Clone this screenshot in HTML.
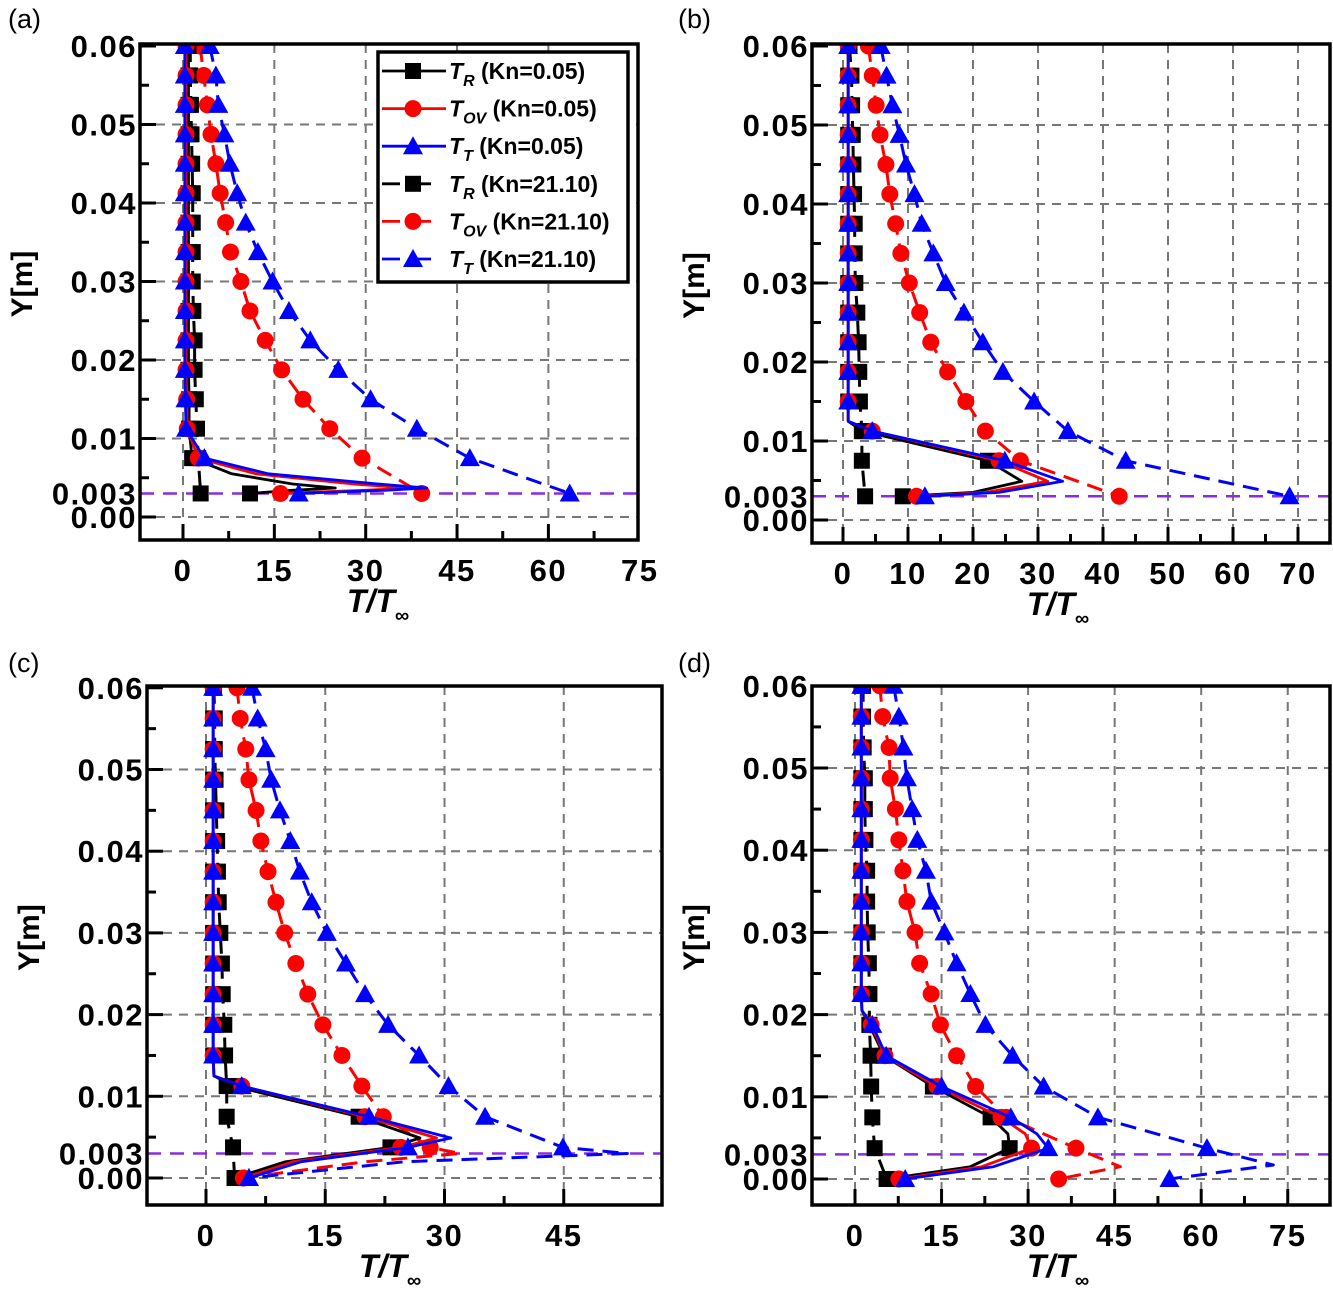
<!DOCTYPE html>
<html><head><meta charset="utf-8"><style>
html,body{margin:0;padding:0;background:#fff;}
svg{display:block;font-family:"Liberation Sans",Arial,sans-serif;}
.tl{font-weight:bold;font-size:31px;letter-spacing:1.5px;fill:#000;}
.pl{font-size:27px;fill:#000;}
.ax{font-weight:bold;font-style:italic;font-size:32px;fill:#000;}
.yt{font-weight:bold;font-size:30px;fill:#000;}
.lg{font-weight:bold;font-size:23px;fill:#000;}
</style></head><body>
<svg id="fig" width="1333" height="1293" viewBox="0 0 1333 1293" xmlns="http://www.w3.org/2000/svg"></svg>
<script>
// ---- marker grids ----
const gridAB = [0.06,0.05625,0.0525,0.04875,0.045,0.04125,0.0375,0.03375,0.03,0.02625,0.0225,0.01875,0.015,0.01125,0.0075,0.003];
const gridCD = [0.06,0.05625,0.0525,0.04875,0.045,0.04125,0.0375,0.03375,0.03,0.02625,0.0225,0.01875,0.015,0.01125,0.0075,0.00375,0];
const yTickVals = [0.06,0.05,0.04,0.03,0.02,0.01,0.00];
const yTickLabels = ["0.06","0.05","0.04","0.03","0.02","0.01","0.00"];
// ---- panel (a) ----
const aXTicks = [0,15,30,45,60,75];
const aY05 = [0.06,0.05625,0.0525,0.04875,0.045,0.04125,0.0375,0.03375,0.03,0.02625,0.0225,0.01875,0.015,0.01125,0.0075,0.0055,0.0042,0.0037,0.0034,0.003];
const aTR05 = [0.9,0.9,0.9,0.9,0.9,0.9,0.9,0.9,0.9,0.9,0.9,0.9,1.0,1.0,1.5,8,18,25,18,11];
const aTOV05 = [0.5,0.5,0.5,0.5,0.5,0.5,0.5,0.5,0.5,0.5,0.5,0.5,0.6,0.7,2.5,12,28,37,30,16];
const aTT05 = [0.3,0.3,0.3,0.3,0.3,0.3,0.3,0.3,0.3,0.3,0.3,0.3,0.4,0.5,3.5,14,32,40,33,19];
const aY21 = gridAB;
const aTR21 = [1.2,1.2,1.3,1.4,1.5,1.6,1.6,1.6,1.6,1.7,1.9,1.9,2.1,2.3,2.5,2.9];
const aTOV21 = [2.8,3.4,4.0,4.6,5.4,6.1,7.0,7.8,9.5,11.0,13.5,16.2,19.7,24.1,29.4,39.2];
const aTT21 = [4.4,5.4,5.8,6.8,7.7,8.9,10.3,12.3,14.7,17.4,20.9,25.5,30.8,38.4,47.1,63.5];
// ---- panel (b) ----
const bXTicks = [0,10,20,30,40,50,60,70];
const bY05 = [0.06,0.05625,0.0525,0.04875,0.045,0.04125,0.0375,0.03375,0.03,0.02625,0.0225,0.01875,0.015,0.0125,0.01125,0.0075,0.0049,0.0035,0.003];
const bTR05 = [0.8,0.8,0.8,0.8,0.8,0.8,0.8,0.8,0.8,0.8,0.8,0.8,0.8,0.8,3,22.3,27.5,20,9.2];
const bTOV05 = [0.8,0.8,0.8,0.8,0.8,0.8,0.8,0.8,0.8,0.8,0.8,0.8,0.8,0.8,4.5,24,31.5,22,11.3];
const bTT05 = [0.8,0.8,0.8,0.8,0.8,0.8,0.8,0.8,0.8,0.8,0.8,0.8,0.8,0.8,4.5,24.9,33.8,24,12.6];
const bY21 = gridAB;
const bTR21 = [1.0,1.3,1.4,1.5,1.6,1.7,1.8,1.8,1.9,2.2,2.4,2.5,2.6,2.9,2.9,3.4];
const bTOV21 = [3.9,4.5,5.1,5.7,6.6,7.2,8.1,8.9,10.2,11.8,13.5,16.1,18.9,21.9,27.3,42.5];
const bTT21 = [5.8,6.7,7.6,8.7,9.7,11.0,12.1,13.9,15.8,18.6,21.5,24.6,29.4,34.6,43.5,68.7];
// ---- panel (c) ----
const cXTicks = [0,15,30,45];
const cY05 = [0.06,0.05625,0.0525,0.04875,0.045,0.04125,0.0375,0.03375,0.03,0.02625,0.0225,0.01875,0.015,0.0125,0.01125,0.0075,0.0049,0.00375,0.002,0];
const cTR05 = [0.9,0.9,0.9,0.9,0.9,0.9,0.9,0.9,0.9,0.9,0.9,0.9,0.9,1.0,3.5,19.2,26.9,23.2,10,3.6];
const cTOV05 = [0.9,0.9,0.9,0.9,0.9,0.9,0.9,0.9,0.9,0.9,0.9,0.9,0.9,1.0,4.5,20.0,29.0,24.5,11,4.7];
const cTT05 = [0.9,0.9,0.9,0.9,0.9,0.9,0.9,0.9,0.9,0.9,0.9,0.9,0.9,1.0,4.5,20.5,30.8,25.4,12,5.4];
const cYTR21 = gridCD;
const cTR21 = [1.0,1.1,1.1,1.2,1.3,1.4,1.5,1.6,1.8,2.0,2.1,2.3,2.4,2.6,2.6,3.4,3.6];
const cYHot21 = [0.06,0.05625,0.0525,0.04875,0.045,0.04125,0.0375,0.03375,0.03,0.02625,0.0225,0.01875,0.015,0.01125,0.0075,0.00375,0.003,0.002,0];
const cTOV21 = [3.9,4.3,5.0,5.4,6.3,6.9,7.8,8.8,9.9,11.3,12.8,14.7,17.1,19.6,22.3,28.2,32,20,4.7];
const cTT21 = [5.8,6.5,7.5,8.2,9.3,10.6,11.8,13.3,15.2,17.6,20.0,22.9,26.8,30.5,35.1,44.9,53,25,5.4];
// ---- panel (d) ----
const dXTicks = [0,15,30,45,60,75];
const dY05 = [0.06,0.05625,0.0525,0.04875,0.045,0.04125,0.0375,0.03375,0.03,0.02625,0.0225,0.0205,0.01875,0.015,0.01125,0.0075,0.0055,0.00375,0.0015,0];
const dTR05 = [1.1,1.1,1.1,1.1,1.1,1.1,1.1,1.1,1.1,1.1,1.1,1.2,2.5,5.0,13.5,23.5,26.5,26.8,20,5.5];
const dTOV05 = [1.1,1.1,1.1,1.1,1.1,1.1,1.1,1.1,1.1,1.1,1.1,1.2,2.8,5.2,14.2,25.3,29.5,30.6,22,7.6];
const dTT05 = [1.1,1.1,1.1,1.1,1.1,1.1,1.1,1.1,1.1,1.1,1.1,1.2,3.0,5.4,15.0,27.0,31.5,33.5,24,8.7];
const dYTR21 = gridCD;
const dTR21 = [1.4,1.4,1.5,1.7,1.7,1.8,2.1,2.1,2.2,2.4,2.5,2.5,2.7,2.8,3.0,3.4,5.5];
const dYOV21 = [0.06,0.05625,0.0525,0.04875,0.045,0.04125,0.0375,0.03375,0.03,0.02625,0.0225,0.01875,0.015,0.01125,0.0075,0.00375,0.0015,0];
const dTOV21 = [4.3,4.8,5.9,6.1,7.0,7.6,8.3,9.0,10.4,11.2,13.2,14.8,17.6,20.9,26.2,38.3,46,35.3];
const dYTT21 = [0.06,0.05625,0.0525,0.04875,0.045,0.04125,0.0375,0.03375,0.03,0.02625,0.0225,0.01875,0.015,0.01125,0.0075,0.00375,0.0017,0];
const dTT21 = [6.7,7.6,8.4,9.0,9.9,10.8,12.3,13.2,15.5,17.6,20.0,22.6,27.3,32.7,42.1,61.0,72.5,54.5];

const NS = "http://www.w3.org/2000/svg";
const svg = document.getElementById("fig");
function mk(tag, attrs, parent){
  const e = document.createElementNS(NS, tag);
  for (const k in attrs) e.setAttribute(k, attrs[k]);
  (parent||svg).appendChild(e);
  return e;
}
const COL = {TR:"#000000", TOV:"#ff0000", TT:"#0000ff"};

function marker(g, kind, cx, cy, color){
  let m;
  if (kind === "TR") m = mk("rect", {x:cx-8, y:cy-8, width:16, height:16, fill:color}, g);
  else if (kind === "TOV") m = mk("circle", {cx:cx, cy:cy, r:8.5, fill:color}, g);
  else m = mk("polygon", {points:`${cx},${cy-10} ${cx+10},${cy+8} ${cx-10},${cy+8}`, fill:color}, g);
  return m;
}
function inGrid(y, grid){ return grid.some(v => Math.abs(v-y) < 1e-7); }

function panel(id, L, R, T, B, x0, xppu, yZero, yppu, xTicks, minorStep, letter, letterPos, xTitleX, xTitleY, series, grid){
  const X = v => x0 + v*xppu;
  const Y = v => yZero - v*yppu;
  const g = mk("g", {});
  
  
  const cp = mk("clipPath", {id:"clip"+id}, g);
  mk("rect", {x:L, y:T, width:R-L, height:B-T}, cp);
  const gg = mk("g", {stroke:"#777", "stroke-width":2, "stroke-dasharray":"9,7"}, g);
  
  
  xTicks.forEach(t => { const x = X(t); if (x > L+2 && x < R-2) mk("line", {x1:x, x2:x, y1:T, y2:B}, gg); });
  yTickVals.forEach(t => { const y = Y(t); if (y > T+4 && y < B-2) mk("line", {x1:L, x2:R, y1:y, y2:y}, gg); });
  const tg = mk("g", {stroke:"#000", "stroke-width":3}, g);
  
  
  for (let v = xTicks[0]; v <= xTicks[xTicks.length-1] + 1e-9; v += minorStep) {
    const x = X(v); if (x <= L || x >= R) continue;
    const major = xTicks.some(t => Math.abs(t-v) < 1e-9);
    mk("line", {x1:x, x2:x, y1:B, y2:B-(major?16:9)}, tg);
  }
  for (let k = 0; k <= 12; k++) {
    const v = k*0.005; const y = Y(v); if (y <= T+1 || y >= B) continue;
    const major = (k % 2 === 0);
    mk("line", {x1:L, x2:L+(major?16:9), y1:y, y2:y}, tg);
  }
  const pl = mk("line", {x1:L, x2:R, y1:Y(0.003), y2:Y(0.003), stroke:"#8a2be2", "stroke-width":2.5, "stroke-dasharray":"14,9"}, g);
  
  
  const sg = mk("g", {"clip-path":`url(#clip${id})`}, g);
  series.forEach(s => {
    const sGroup = mk("g", {}, sg);
    
    
    const pts = s.y.map((yv,i) => X(s.x[i]).toFixed(1)+","+Y(yv).toFixed(1)).join(" ");
    const attrs = {points:pts, fill:"none", stroke:COL[s.kind], "stroke-width":s.dashed?3:2.8, "stroke-linejoin":"round"};
    if (s.dashed) attrs["stroke-dasharray"] = "16,9";
    const line = mk("polyline", attrs, sGroup);
    
    
    s.y.forEach((yv,i) => {
      if (!inGrid(yv, grid)) return;
      const m = marker(sGroup, s.kind, X(s.x[i]), Y(yv), COL[s.kind]);
      
      
    });
  });
  const fr = mk("rect", {x:L, y:T, width:R-L, height:B-T, fill:"none", stroke:"#000", "stroke-width":3.5}, g);
  
  
  xTicks.forEach(t => {
    const tx = mk("text", {x:X(t), y:B+41, "text-anchor":"middle", class:"tl"}, g);
    tx.textContent = String(t);
    
    
  });
  yTickVals.forEach((t,i) => {
    const ty = mk("text", {x:L-3, y:Y(t)+11, "text-anchor":"end", class:"tl"}, g);
    ty.textContent = yTickLabels[i];
    
    
  });
  const t3 = mk("text", {x:L-3, y:Y(0.003)+11, "text-anchor":"end", class:"tl"}, g);
  t3.textContent = "0.003";
  
  
  const xt = mk("text", {x:xTitleX, y:xTitleY, "text-anchor":"middle", class:"ax"}, g);
  
  
  xt.innerHTML = 'T/T<tspan font-size="20" dy="10">∞</tspan>';
  const yx = L-108, yy = (T+B)/2 - 8;
  const yt = mk("text", {x:yx, y:yy, "text-anchor":"middle", class:"yt", transform:`rotate(-90 ${yx} ${yy})`}, g);
  yt.textContent = "Y[m]";
  
  
  const pl2 = mk("text", {x:letterPos[0], y:letterPos[1], class:"pl"}, g);
  pl2.textContent = letter;
  
  
}

function S(kind, kn, y, x, dashed){ return {kind, kn, y, x, dashed}; }

panel("a", 140, 638, 44, 540, 183, 6.09, 517, 7850, aXTicks, 7.5, "(a)", [8,28], 378, 612, [
  S("TR","21.10",aY21,aTR21,true), S("TOV","21.10",aY21,aTOV21,true), S("TT","21.10",aY21,aTT21,true),
  S("TR","0.05",aY05,aTR05,false), S("TOV","0.05",aY05,aTOV05,false), S("TT","0.05",aY05,aTT05,false)
], gridAB);
panel("b", 812, 1330, 44, 543, 843, 6.5, 520, 7900, bXTicks, 5, "(b)", [678,28], 1058, 615, [
  S("TR","21.10",bY21,bTR21,true), S("TOV","21.10",bY21,bTOV21,true), S("TT","21.10",bY21,bTT21,true),
  S("TR","0.05",bY05,bTR05,false), S("TOV","0.05",bY05,bTOV05,false), S("TT","0.05",bY05,bTT05,false)
], gridAB);
panel("c", 147, 662, 686, 1205, 206, 7.95, 1178, 8170, cXTicks, 7.5, "(c)", [8,672], 390, 1277, [
  S("TR","21.10",cYTR21,cTR21,true), S("TOV","21.10",cYHot21,cTOV21,true), S("TT","21.10",cYHot21,cTT21,true),
  S("TR","0.05",cY05,cTR05,false), S("TOV","0.05",cY05,cTOV05,false), S("TT","0.05",cY05,cTT05,false)
], gridCD);
panel("d", 812, 1330, 686, 1205, 855, 5.77, 1179, 8220, dXTicks, 7.5, "(d)", [678,672], 1058, 1277, [
  S("TR","21.10",dYTR21,dTR21,true), S("TOV","21.10",dYOV21,dTOV21,true), S("TT","21.10",dYTT21,dTT21,true),
  S("TR","0.05",dY05,dTR05,false), S("TOV","0.05",dY05,dTOV05,false), S("TT","0.05",dY05,dTT05,false)
], gridCD);

const legKinds = ["TR","TOV","TT","TR","TOV","TT"];
const legSubs = ["R","OV","T","R","OV","T"];
const legKn = ["0.05","0.05","0.05","21.10","21.10","21.10"];
const lg = mk("g", {});


const lbox = mk("rect", {x:378, y:52, width:250, height:230, fill:"#fff", stroke:"#000", "stroke-width":3.5}, lg);


legKinds.forEach((k,i) => {
  const cy = 71 + i*37.6;
  const eg = mk("g", {}, lg);
  
  
  const dashed = i >= 3;
  const la = {x1:382, x2:dashed?444:446, y1:cy, y2:cy, stroke:COL[k], "stroke-width":2.8};
  if (dashed) la["stroke-dasharray"] = "18,13";
  mk("line", la, eg);
  marker(eg, k, 413, cy, COL[k]);
  const t = mk("text", {x:449, y:cy+8, class:"lg"}, eg);
  t.innerHTML = `<tspan font-style="italic">T</tspan><tspan font-style="italic" font-size="16" dy="7">${legSubs[i]}</tspan><tspan dy="-7"> (Kn=${legKn[i]})</tspan>`;
});
</script>
</body></html>
